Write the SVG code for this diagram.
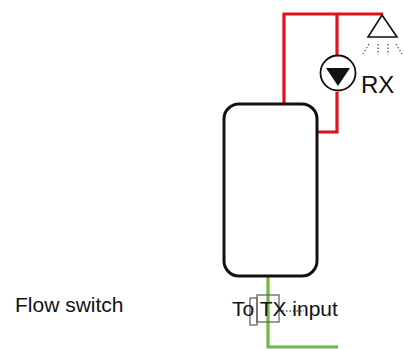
<svg xmlns="http://www.w3.org/2000/svg" width="404" height="349" viewBox="0 0 404 349">
<style>
text{font-family:"Liberation Sans",Arial,sans-serif;fill:#111}
.r{fill:none;stroke:#e2101e;stroke-width:3.2}
.g{fill:none;stroke:#6cbc3a;stroke-width:3.2}
.k{stroke:#111;stroke-width:1.6}
.d{stroke:#555;stroke-width:1.3;stroke-dasharray:1.5 2;fill:none}
.s{fill:none;stroke:#666;stroke-width:1.3}
</style>
<rect width="404" height="349" fill="#fff"/>
<g id="connectors">
<path class="r" d="M284 103V14H383"/>
<path class="r" d="M337 14V56"/>
<path class="r" d="M337 92V132H318"/>
<path class="g" d="M268 277V347H338"/>
</g>
<g id="tank"><rect x="224" y="104" width="93" height="172" rx="15" fill="none" stroke="#111" stroke-width="3"/></g>
<g id="pump">
<circle cx="338" cy="73" r="17.500" fill="#fff" stroke="#111" stroke-width="1.8"/>
<path d="M326 68H350L338 86Z" fill="#111"/>
<text x="361" y="93" font-size="24">RX</text>
</g>
<g id="sprinkler">
<path class="k" d="M382 15L397 37H368Z" fill="#fff"/>
<path class="d" d="M369 44L363 54M378 44V55M388 44V55M396 44L402 54"/>
</g>
<g id="flow-switch">
<rect class="s" x="250" y="298" width="7" height="27"/>
<rect class="s" x="257" y="295" width="22" height="27"/>
<path class="d" d="M279 311H304"/>
<text x="15" y="312" font-size="21">Flow switch</text>
</g>
<g id="tx-label"><text x="232" y="316" font-size="21">To TX input</text></g>
</svg>
